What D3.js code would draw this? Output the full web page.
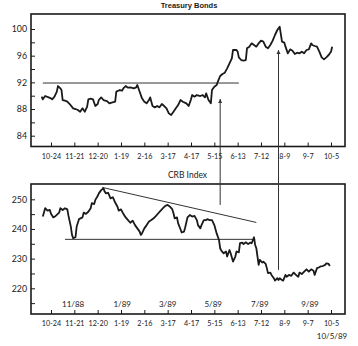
<!DOCTYPE html>
<html><head><meta charset="utf-8">
<script src="https://cdn.jsdelivr.net/npm/d3@7"></script>
<style>body{margin:0;background:#fff}svg{display:block}</style>
</head><body>
<script>
const tickLabels = ["10-24","11-21","12-20","1-19","2-16","3-17","4-17","5-15","6-13","7-12","8-9","9-7","10-5"];
const monthLabels = ["11/88","1/89","3/89","5/89","7/89","9/89"];
const monthDays = [19, 61, 100, 139, 179, 222];
const bondTicks = [84,86,88,90,92,94,96,98,100];
const crbTicks = [215,220,225,230,235,240,245,250];

const bonds = [[-8,89.85],[-7,89.45],[-5,89.95],[-2,89.75],[0,89.6],[1,89.45],[3,89.85],[5,90.6],[6,91.45],[8,91.1],[9,90.85],[10,89.35],[12,89.25],[14,89.1],[16,88.75],[19,88.1],[21,88.0],[23,87.85],[25,87.6],[27,88.1],[29,87.6],[31,88.35],[32,89.45],[34,89.55],[36,89.45],[38,88.45],[40,88.75],[41,89.35],[43,89.75],[45,89.35],[48,89.2],[50,88.85],[52,88.95],[55,89.1],[56,90.6],[59,90.85],[61,90.75],[62,91.1],[64,91.45],[66,91.2],[68,91.25],[71,91.1],[73,91.25],[74,91.6],[76,90.6],[78,89.6],[80,89.1],[82,88.85],[84,89.35],[85,89.75],[87,88.45],[89,88.25],[91,88.45],[93,88.25],[95,88.75],[97,88.45],[99,88.1],[101,87.35],[103,87.1],[105,87.6],[107,88.1],[109,88.6],[111,89.35],[113,89.1],[116,88.85],[118,88.45],[120,89.45],[121,90.1],[123,89.85],[125,90.1],[128,89.95],[130,90.1],[132,89.75],[133,90.35],[135,89.35],[137,88.85],[138,90.85],[140,91.35],[142,91.6],[143,92.1],[145,92.95],[147,93.25],[149,93.45],[151,94.1],[153,94.85],[155,95.6],[156,96.85],[159,96.85],[160,96.6],[161,95.75],[163,95.35],[165,95.25],[167,95.35],[168,97.1],[170,97.35],[172,97.85],[174,97.6],[176,97.35],[178,97.85],[180,98.25],[182,98.1],[184,97.35],[186,97.1],[188,97.6],[190,98.25],[192,99.1],[194,99.85],[196,100.35],[198,98.1],[200,97.95],[201,97.35],[203,96.35],[205,96.95],[207,96.75],[209,96.25],[211,96.45],[213,96.35],[215,96.6],[217,96.35],[219,96.85],[221,96.95],[223,97.85],[224,97.6],[226,97.45],[228,97.35],[230,96.6],[232,95.75],[234,95.45],[236,95.75],[238,96.1],[240,96.6],[241,97.35]];

const crb = [[-7,244.2],[-5,247.0],[-3,246.2],[-1,246.4],[0,245.1],[2,243.9],[4,244.4],[7,245.5],[8,247.0],[10,246.4],[12,247.0],[14,246.6],[15,244.4],[17,240.8],[18,238.0],[19,236.9],[21,237.2],[22,240.8],[24,243.3],[27,243.9],[28,245.5],[30,245.1],[32,245.8],[34,247.0],[35,248.7],[37,248.4],[38,249.8],[40,251.1],[41,252.0],[43,253.1],[45,253.7],[46,252.6],[47,252.0],[49,252.2],[51,250.3],[53,250.7],[55,248.9],[57,247.5],[58,246.2],[60,246.6],[62,245.1],[64,243.9],[66,243.0],[68,242.1],[70,242.8],[72,241.3],[74,240.2],[76,239.1],[77,238.0],[78,238.5],[80,240.2],[82,241.3],[84,242.5],[86,243.0],[88,243.6],[90,244.4],[92,245.3],[94,246.2],[96,247.0],[98,247.8],[100,248.1],[102,247.5],[104,246.6],[105,245.3],[106,243.6],[108,243.9],[109,241.9],[111,239.9],[112,238.8],[114,239.1],[115,240.5],[117,243.9],[119,244.7],[121,244.2],[123,244.4],[125,243.0],[126,241.3],[128,240.2],[129,241.3],[131,243.0],[133,243.0],[134,243.3],[136,243.0],[138,243.0],[140,241.3],[142,238.5],[144,236.3],[145,233.5],[146,232.7],[148,231.8],[150,232.4],[151,230.7],[153,232.9],[154,231.8],[156,229.0],[158,230.7],[159,232.4],[161,232.1],[162,235.2],[164,235.4],[165,234.9],[167,235.5],[169,234.9],[171,235.4],[172,235.2],[174,237.2],[175,234.6],[176,233.5],[177,230.7],[178,227.9],[179,229.6],[181,228.7],[182,229.0],[184,228.2],[185,226.8],[186,225.1],[188,225.3],[189,224.5],[191,223.4],[192,222.6],[194,223.4],[195,222.8],[196,223.4],[198,222.8],[199,222.6],[201,224.5],[202,223.9],[204,224.5],[206,224.2],[208,225.3],[210,224.5],[212,223.9],[213,225.3],[215,224.8],[217,225.6],[219,226.4],[221,225.6],[223,226.4],[225,225.9],[226,224.5],[228,226.8],[230,227.1],[231,227.4],[233,227.5],[235,227.9],[236,228.4],[238,228.2],[239,227.5]];

const bondSupport = [[-7,91.9],[161,91.9]];
const crbSupport = [[12,236.5],[175,236.5]];
const crbTrend = [[44,254.0],[176,242.2]];
const arrowDays = [145, 195];
const arrowFromCrb = [248.1, 226.2];
const arrowToBond = [89.5, 96.85];

const W = 358, H = 346;
const svg = d3.select("body").append("svg").attr("width", W).attr("height", H);
svg.append("rect").attr("width", W).attr("height", H).attr("fill", "#fff");

const left = 31, right = 345;
const top1 = 14, bot1 = 146.5, top2 = 184, bot2 = 314;

const x = d3.scaleLinear().domain([0, 240]).range([51, 331]);
const yT = d3.scaleLinear().domain([84, 100]).range([135.7, 29]);
const yB = d3.scaleLinear().domain([220, 250]).range([288.3, 199.3]);

const ink = "#1a1a1a";
const labelFont = "Lato, 'Open Sans', sans-serif";

function panel(top, bot, yScale, ticks, major, tickFmt) {
  const g = svg.append("g");
  g.append("rect").attr("x", left).attr("y", top).attr("width", right - left).attr("height", bot - top)
    .attr("fill", "none").attr("stroke", ink).attr("stroke-width", 1.6);
  const ya = d3.axisLeft(yScale).tickValues(ticks).tickSize(-4).tickPadding(4)
    .tickFormat(d => (d % major === 0 ? tickFmt(d) : ""));
  const yg = g.append("g").attr("transform", `translate(${left},0)`).call(ya);
  yg.select(".domain").remove();
  yg.selectAll("line").attr("stroke", ink).attr("stroke-width", 1);
  yg.selectAll("text").attr("font-family", labelFont).attr("font-size", 8.8).attr("fill", ink);
  const xa = d3.axisBottom(x).tickValues(d3.range(tickLabels.length).map(i => i * 20))
    .tickSize(-4).tickPadding(7).tickFormat((d, i) => tickLabels[i]);
  const xg = g.append("g").attr("transform", `translate(0,${bot})`).call(xa);
  xg.select(".domain").remove();
  xg.selectAll("line").attr("stroke", ink).attr("stroke-width", 1);
  xg.selectAll("text").attr("font-family", labelFont).attr("font-size", 7.2).attr("fill", ink);
  return g;
}

panel(top1, bot1, yT, bondTicks, 4, d => d);
panel(top2, bot2, yB, crbTicks, 10, d => d);

const lineT = d3.line().x(d => x(d[0])).y(d => yT(d[1]));
const lineB = d3.line().x(d => x(d[0])).y(d => yB(d[1]));

svg.append("path").datum(bondSupport).attr("d", lineT).attr("fill", "none").attr("stroke", "#333").attr("stroke-width", 1);
svg.append("path").datum(crbSupport).attr("d", lineB).attr("fill", "none").attr("stroke", "#333").attr("stroke-width", 1);
svg.append("path").datum(crbTrend).attr("d", lineB).attr("fill", "none").attr("stroke", "#333").attr("stroke-width", 1);

svg.append("path").datum(bonds).attr("d", lineT).attr("fill", "none").attr("stroke", ink)
  .attr("stroke-width", 1.8).attr("stroke-linejoin", "round");
svg.append("path").datum(crb).attr("d", lineB).attr("fill", "none").attr("stroke", ink)
  .attr("stroke-width", 1.8).attr("stroke-linejoin", "round");

svg.append("defs").append("marker").attr("id", "ah").attr("viewBox", "0 0 10 10")
  .attr("refX", 10).attr("refY", 5).attr("markerWidth", 4).attr("markerHeight", 9)
  .attr("markerUnits", "userSpaceOnUse").attr("orient", "auto")
  .append("path").attr("d", "M0,0L10,5L0,10Z").attr("fill", "#333");
arrowDays.forEach((d, i) => {
  svg.append("line").attr("x1", x(d)).attr("x2", x(d))
    .attr("y1", yB(arrowFromCrb[i])).attr("y2", yT(arrowToBond[i]))
    .attr("stroke", "#333").attr("stroke-width", 1).attr("marker-end", "url(#ah)");
});

svg.append("text").attr("x", 189).attr("y", 7.8).attr("text-anchor", "middle")
  .attr("font-family", "'Liberation Sans', Arial, sans-serif").attr("font-weight", "bold")
  .attr("font-size", 7.5).attr("fill", ink).text("Treasury Bonds");
svg.append("text").attr("x", 187.5).attr("y", 178).attr("text-anchor", "middle")
  .attr("font-family", labelFont).attr("font-size", 8.5).attr("fill", ink).text("CRB Index");
svg.selectAll(".mlab").data(monthLabels).enter().append("text")
  .attr("x", (d, i) => x(monthDays[i])).attr("y", 307).attr("text-anchor", "middle")
  .attr("font-family", labelFont).attr("font-size", 8).attr("fill", ink).text(d => d);
svg.append("text").attr("x", 332).attr("y", 339).attr("text-anchor", "middle")
  .attr("font-family", labelFont).attr("font-size", 8).attr("fill", ink).text("10/5/89");
</script>
</body></html>
